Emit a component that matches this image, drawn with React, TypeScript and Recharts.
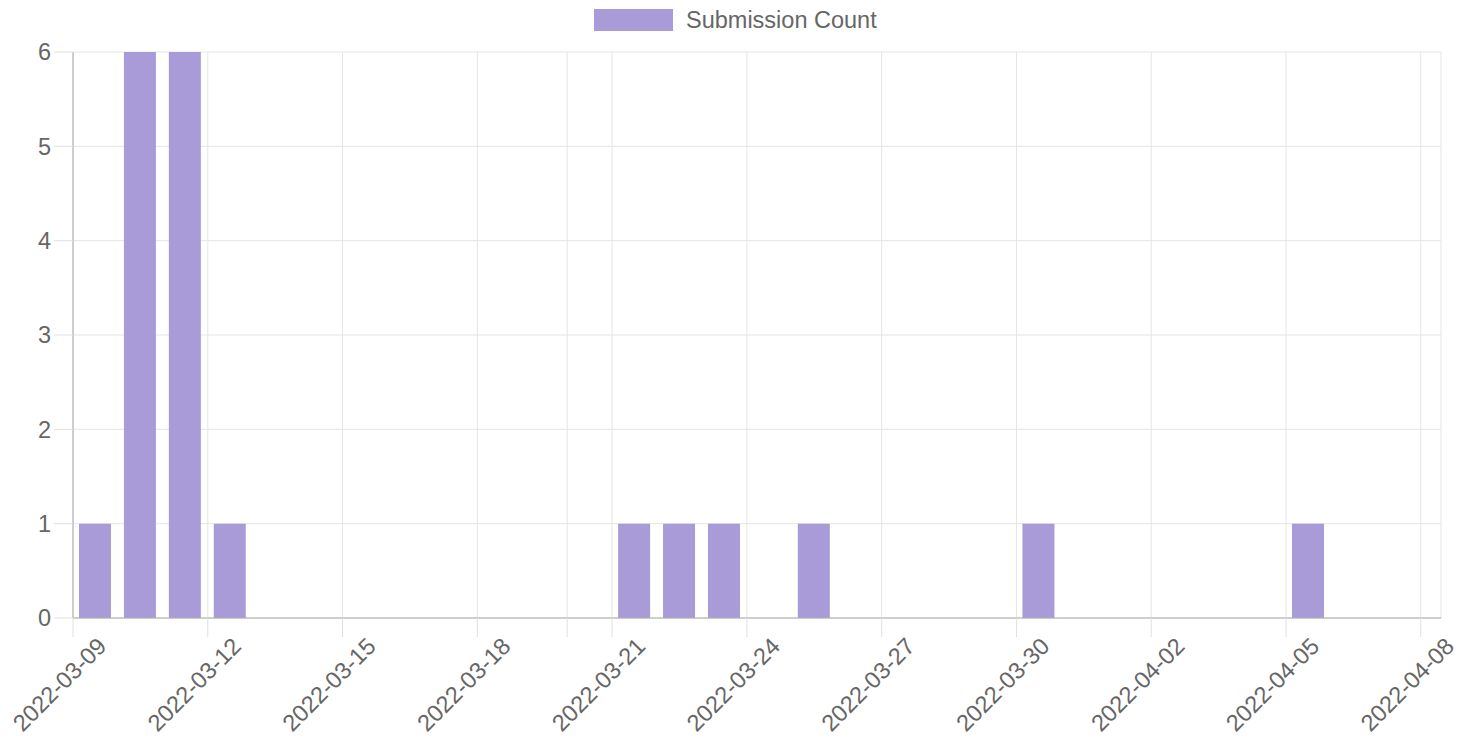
import React from 'react';
import { BarChart, Bar, XAxis, YAxis, CartesianGrid } from 'recharts';

const startDate = '2022-03-09';

const dates = [
  '2022-03-09', '2022-03-10', '2022-03-11', '2022-03-12',
  '2022-03-21', '2022-03-22', '2022-03-23', '2022-03-25',
  '2022-03-30', '2022-04-05',
];
const counts = [1, 6, 6, 1, 1, 1, 1, 1, 1, 1];

// tick dates on the time axis (03-20 gets a grid line but no label)
const tickDates = [
  '2022-03-09', '2022-03-12', '2022-03-15', '2022-03-18', '2022-03-20', '2022-03-21',
  '2022-03-24', '2022-03-27', '2022-03-30', '2022-04-02', '2022-04-05', '2022-04-08',
];
const hiddenTickDates = ['2022-03-20'];
const yTicks = [0, 1, 2, 3, 4, 5, 6];

const DAY = 86400000;
const dayOffset = (d: string) => (Date.parse(d) - Date.parse(startDate)) / DAY;
const offsetToDate = (n: number) =>
  new Date(Date.parse(startDate) + Math.round(n) * DAY).toISOString().slice(0, 10);

// bars sit at noon of each day
const data = dates.map((d, i) => ({ day: dayOffset(d) + 0.5, count: counts[i] }));
const xTicks = tickDates.map(dayOffset);

const FONT = '"Liberation Sans", Arial, Helvetica, sans-serif';
const FONT_SIZE = 23.5;
const BAR_COLOR = '#a99bd8';

function XTick(props: any) {
  const { x, y, payload } = props;
  const label = offsetToDate(payload.value);
  if (hiddenTickDates.includes(label)) return null;
  return (
    <text
      x={0}
      y={0}
      transform={`translate(${x + 29},${y + 3}) rotate(-45)`}
      textAnchor="end"
      dominantBaseline="central"
      fill="#666"
      style={{ fontSize: FONT_SIZE, fontFamily: FONT }}
    >
      {label}
    </text>
  );
}

export default function App() {
  return (
    <div style={{ position: 'absolute', left: 0, top: 0, width: 1462, height: 740, fontFamily: FONT }}>
      <div style={{ position: 'absolute', left: 594, top: 9, display: 'flex', alignItems: 'center' }}>
        <div style={{ width: 79, height: 22, background: BAR_COLOR }} />
        <span style={{ marginLeft: 13, fontSize: FONT_SIZE, color: '#666', lineHeight: '22px' }}>Submission Count</span>
      </div>
      <BarChart width={1462} height={740} data={data} margin={{ top: 52, right: 21, left: 0, bottom: 0 }}>
        <CartesianGrid stroke="#e5e5e5" />
        <XAxis
          dataKey="day"
          type="number"
          domain={[0, 30.45]}
          ticks={xTicks}
          interval={0}
          height={122}
          tickSize={19}
          tickMargin={2}
          tickLine={{ stroke: '#e0e0e0' }}
          axisLine={{ stroke: '#aaa' }}
          tick={<XTick />}
        />
        <YAxis
          type="number"
          domain={[0, 6]}
          ticks={yTicks}
          width={73}
          tickSize={19}
          tickMargin={3}
          tickLine={{ stroke: '#e0e0e0' }}
          axisLine={{ stroke: '#aaa' }}
          tick={{ fill: '#666', fontSize: FONT_SIZE, fontFamily: FONT }}
        />
        <Bar dataKey="count" fill={BAR_COLOR} barSize={32} isAnimationActive={false} />
      </BarChart>
    </div>
  );
}
